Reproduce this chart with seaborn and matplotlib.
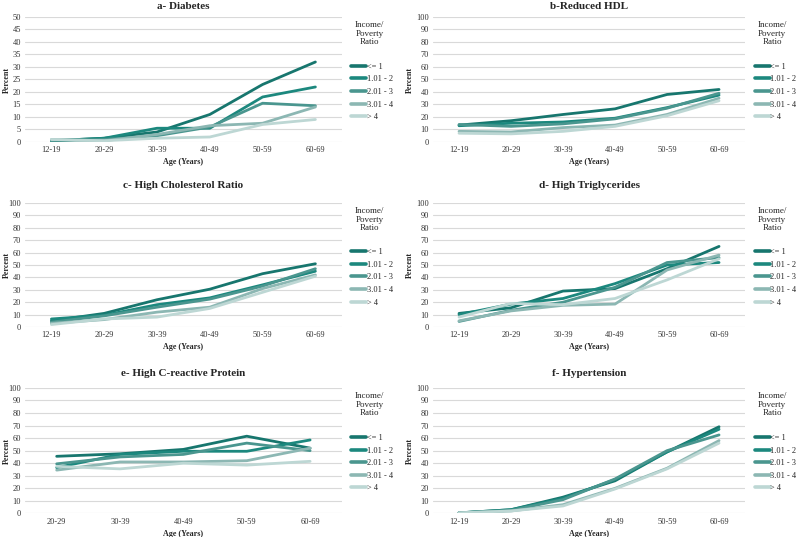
import matplotlib
matplotlib.use("Agg")
import matplotlib.pyplot as plt
import pandas as pd
import seaborn as sns

# categories
ages = ["12-19", "20-29", "30-39", "40-49", "50-59", "60-69"]
ages_crp = ["20-29", "30-39", "40-49", "50-59", "60-69"]
groups = ["<= 1", "1.01 - 2", "2.01 - 3", "3.01 - 4", "> 4"]
colors = ["#17766e", "#1c887e", "#4a968f", "#8cb7b3", "#bdd7d4"]

# percent values, one row per income/poverty group (same order as groups)
diabetes = [
    [0.5, 1.5, 4, 11, 23, 32],
    [0.5, 1.5, 5.5, 5.5, 18, 22],
    [0.5, 1, 2.5, 6, 15.5, 14.5],
    [1, 0.5, 3, 6.5, 7.5, 14],
    [1, 0.5, 1.5, 2, 7, 9],
]
reduced_hdl = [
    [13.5, 17, 22, 26.5, 38, 42],
    [13, 15, 16, 19, 27.5, 37.5],
    [14, 12.5, 14.5, 18.5, 27, 39],
    [8.5, 8, 11.5, 13.5, 22, 35],
    [7, 6.5, 8.5, 12.5, 21, 33],
]
chol_ratio = [
    [5, 11, 22, 30.5, 43, 51],
    [6.5, 9.5, 18, 23.5, 34, 45],
    [4, 9, 16, 22.5, 33, 47],
    [3, 6, 12, 16, 31, 42],
    [2, 6.5, 8, 15, 28, 41],
]
triglycerides = [
    [11, 15.5, 29, 31, 47, 65],
    [10, 18.5, 23, 35, 50, 52],
    [4.5, 13.5, 20, 32, 52, 56],
    [5, 13, 17.5, 18.5, 46, 58],
    [8, 19, 18, 23, 38, 55],
]
crp = [
    [45.5, 47.5, 51, 61.5, 52],
    [36.5, 47, 49.5, 49.5, 58.5],
    [39.5, 45, 47, 56, 50],
    [34.5, 41, 41, 42, 52],
    [37.5, 35.5, 40, 38.5, 41.5],
]
hypertension = [
    [0.5, 3, 13, 26, 49, 69],
    [0.5, 3, 12, 27, 49, 67],
    [0.5, 2.5, 11, 27.5, 50, 62.5],
    [0.5, 2, 7, 20, 36, 58],
    [0.5, 2, 6, 19.5, 35.5, 56],
]

panels = [
    ("a- Diabetes", ages, diabetes, 50, 5),
    ("b-Reduced HDL", ages, reduced_hdl, 100, 10),
    ("c- High Cholesterol Ratio", ages, chol_ratio, 100, 10),
    ("d- High Triglycerides", ages, triglycerides, 100, 10),
    ("e- High C-reactive Protein", ages_crp, crp, 100, 10),
    ("f- Hypertension", ages, hypertension, 100, 10),
]

sns.set_theme(style="whitegrid")
plt.rcParams["font.family"] = ["Liberation Serif", "DejaVu Serif"]

fig = plt.figure(figsize=(7.96, 5.37), dpi=100)

col_x = [(0.0314, 0.398), (0.544, 0.392)]
row_y = [(0.7356, 0.2328), (0.391, 0.231), (0.0438, 0.234)]
title_pad = [6, 11, 8.5]
ylabel_x = [-0.045, -0.06]

for i, (title, xcats, data, ymax, step) in enumerate(panels):
    r, c = divmod(i, 2)
    ax = fig.add_axes([col_x[c][0], row_y[r][0], col_x[c][1], row_y[r][1]])

    rows = [(a, g, v) for g, vals in zip(groups, data) for a, v in zip(xcats, vals)]
    df = pd.DataFrame(rows, columns=["age", "group", "pct"])

    sns.lineplot(data=df, x="age", y="pct", hue="group", hue_order=groups,
                 palette=colors, linewidth=2.0, sort=False, errorbar=None, ax=ax)

    ax.set_xlim(-0.5, len(xcats) - 0.5)
    ax.set_ylim(0, ymax)
    ax.set_yticks(range(0, ymax + 1, step))
    ax.grid(axis="y", color="#d9d9d9", linewidth=0.8)
    ax.grid(axis="x", visible=False)
    for s in ax.spines.values():
        s.set_visible(False)
    ax.tick_params(length=0, labelsize=6, pad=3, colors="#333333")

    ax.set_title(title, fontsize=8, fontweight="bold", pad=title_pad[r])
    ax.set_xlabel("Age (Years)", fontsize=5.8, fontweight="bold", labelpad=3)
    ax.set_ylabel("Percent", fontsize=5.8, fontweight="bold")
    ax.yaxis.set_label_coords(ylabel_x[c], 0.5)

    handles, labels = ax.get_legend_handles_labels()
    leg = ax.legend(handles, labels, loc="center left", bbox_to_anchor=(1.02, 0.4),
                    frameon=False, fontsize=6, handlelength=1.8,
                    handletextpad=0.1, labelspacing=0.55, borderaxespad=0)
    for ln in leg.get_lines():
        ln.set_linewidth(2.6)
    ax.text(1.087, 0.865, "Income/\nPoverty\nRatio", transform=ax.transAxes,
            ha="center", va="center", fontsize=6.5, linespacing=1.1)

fig.savefig("out.png", dpi=100)
